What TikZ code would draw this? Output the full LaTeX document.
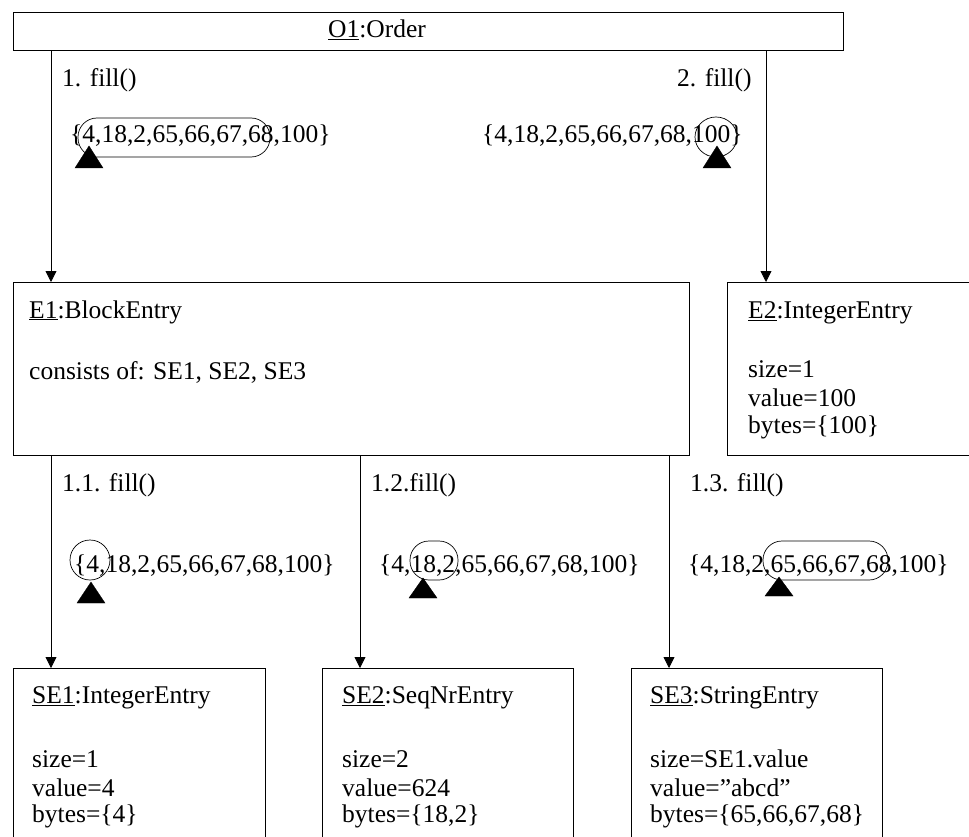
\documentclass[tikz,border=0pt]{standalone}
\usepackage{fontspec}
\setmainfont{Liberation Serif}
\usetikzlibrary{arrows.meta}
\begin{document}
\begin{tikzpicture}[x=1pt,y=-1pt,
  txt/.style={anchor=west,inner sep=0pt,font=\fontsize{25.5}{29}\selectfont},
  obj/.style={draw,line width=0.9pt,anchor=north west,inner sep=0pt},
  link/.style={line width=0.8pt,-{Triangle[length=11pt,width=11pt]}},
  rangering/.style={line width=0.7pt},
  pointer/.style={fill=black}]
\useasboundingbox (0,0) rectangle (969,837);
\clip (0,0) rectangle (969,837);
\fill[white] (0,0) rectangle (969,837);

% objects
\node[obj,minimum width=830pt,minimum height=38pt] (O1) at (13,12) {};
\node[obj,minimum width=676pt,minimum height=173pt] (E1) at (13,282) {};
\node[obj,minimum width=270pt,minimum height=173pt] (E2) at (727,282) {};
\node[obj,minimum width=252pt,minimum height=240pt] (SE1) at (13,668) {};
\node[obj,minimum width=251pt,minimum height=240pt] (SE2) at (322,668) {};
\node[obj,minimum width=251pt,minimum height=240pt] (SE3) at (631,668) {};

\node[txt] (o1t) at (328,30) {\underline{O1}:Order};

\node[txt] (e1t) at (29,312) {\underline{E1}:BlockEntry};
\node[txt] (e1c) at (29,372) {consists of: SE1, SE2, SE3};

\node[txt] (e2t) at (748,313) {\underline{E2}:IntegerEntry};
\node[txt] (e2s) at (748,369) {size=1};
\node[txt] (e2v) at (748,398) {value=100};
\node[txt] (e2b) at (748,427) {bytes=\{100\}};

\node[txt] (se1t) at (32,698) {\underline{SE1}:IntegerEntry};
\node[txt] (se1s) at (32,759) {size=1};
\node[txt] (se1v) at (32,788) {value=4};
\node[txt] (se1b) at (32,816) {bytes=\{4\}};

\node[txt] (se2t) at (342,698) {\underline{SE2}:SeqNrEntry};
\node[txt] (se2s) at (342,759) {size=2};
\node[txt] (se2v) at (342,788) {value=624};
\node[txt] (se2b) at (342,816) {bytes=\{18,2\}};

\node[txt] (se3t) at (650,698) {\underline{SE3}:StringEntry};
\node[txt] (se3s) at (650,759) {size=SE1.value};
\node[txt] (se3v) at (650,788) {value=”abcd”};
\node[txt] (se3b) at (650,816) {bytes=\{65,66,67,68\}};

% messages
\draw[link] ([xshift=38pt]O1.south west) -- ([xshift=38pt]E1.north west);
\draw[link] ([xshift=753pt]O1.south west) -- ([xshift=39pt]E2.north west);
\draw[link] ([xshift=38pt]E1.south west) -- ([xshift=38pt]SE1.north west);
\draw[link] ([xshift=347pt]E1.south west) -- ([xshift=38pt]SE2.north west);
\draw[link] ([xshift=656pt]E1.south west) -- ([xshift=38pt]SE3.north west);

\node[txt] (m1) at (62,80) {1. fill()};
\node[txt] (m2) at (677,80) {2. fill()};
\node[txt] (m11) at (62,485) {1.1. fill()};
\node[txt] (m12) at (371,485) {1.2.fill()};
\node[txt] (m13) at (690,485) {1.3. fill()};

% byte streams with the consumed range marked
\node[txt] (b1) at (70,136) {\{4,18,2,65,66,67,68,100\}};
\draw[rangering,rounded corners=19pt] (78,118) rectangle (270,157);
\draw[pointer] (75,168) -- (103,168) -- (89,146) -- cycle;

\node[txt] (b2) at (482,136) {\{4,18,2,65,66,67,68,100\}};
\draw[rangering] (716,137) ellipse [x radius=21, y radius=20];
\draw[pointer] (703,168) -- (731,168) -- (717,146) -- cycle;

\node[txt] (b11) at (74,566) {\{4,18,2,65,66,67,68,100\}};
\draw[rangering] (90,560) ellipse [x radius=20, y radius=20];
\draw[pointer] (77,603) -- (105,603) -- (91,582) -- cycle;

\node[txt] (b12) at (379,566) {\{4,18,2,65,66,67,68,100\}};
\draw[rangering,rounded corners=19pt] (410,541) rectangle (458,580);
\draw[pointer] (409,598) -- (437,598) -- (423,578) -- cycle;

\node[txt] (b13) at (688,566) {\{4,18,2,65,66,67,68,100\}};
\draw[rangering,rounded corners=19pt] (763,541) rectangle (888,580);
\draw[pointer] (765,596) -- (793,596) -- (779,577) -- cycle;
\end{tikzpicture}
\end{document}
